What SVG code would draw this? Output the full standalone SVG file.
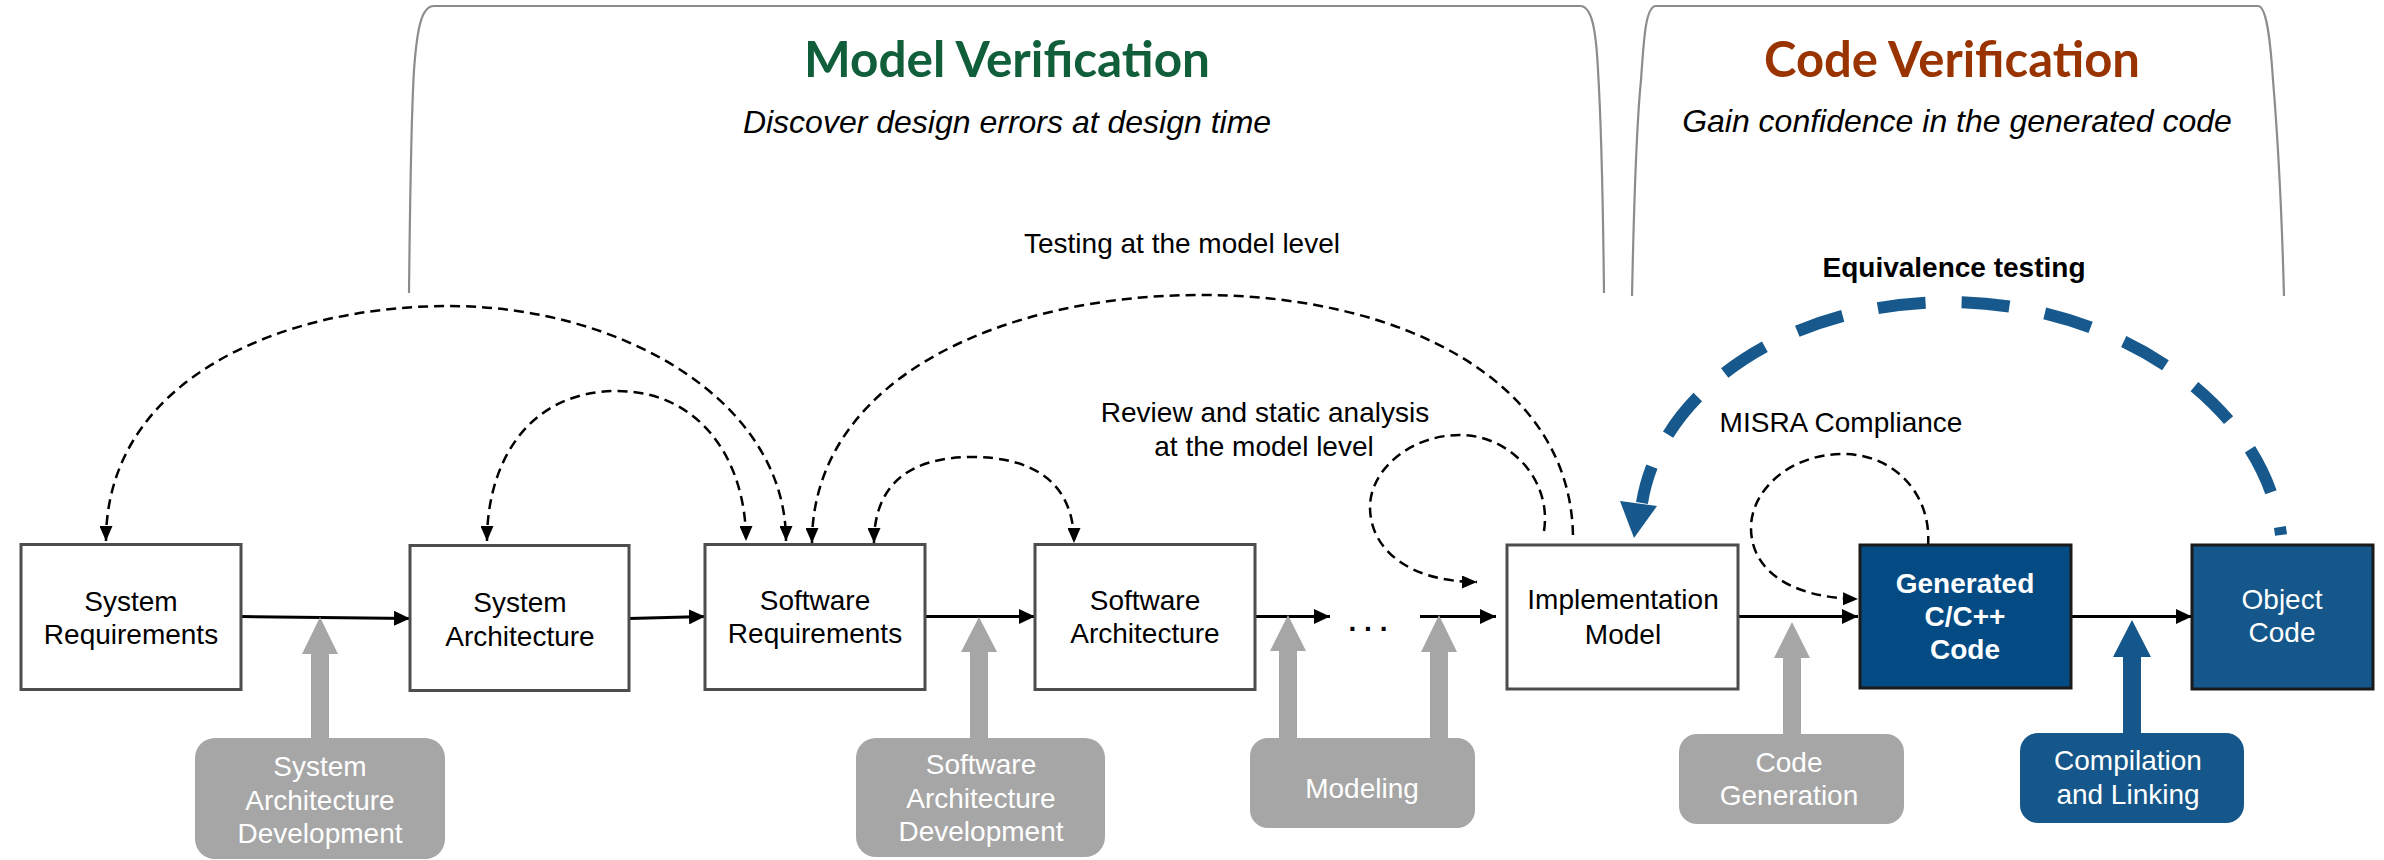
<svg xmlns="http://www.w3.org/2000/svg" width="2384" height="860" viewBox="0 0 2384 860">
  <defs>
    <style>
      .t { font-family: "Liberation Sans", Arial, sans-serif; font-size: 28px; text-anchor: middle; fill: #000; }
      .w { fill: #fff; }
      .b { font-weight: bold; }
      .it { font-style: italic; font-size: 32px; }
      .title { font-family: Lato, "Open Sans", sans-serif; font-weight: bold; font-size: 50px; text-anchor: middle; }
      .box { fill: #fff; stroke: #4d4d4d; stroke-width: 3; }
      .bluebox { stroke: #1a1a1a; stroke-width: 3; }
      .pill { fill: #a6a6a6; }
      .pillblue { fill: #15578a; }
      .flow { fill: none; stroke: #000; stroke-width: 3; marker-end: url(#arrow); }
      .loop { fill: none; stroke: #000; stroke-width: 2.5; stroke-dasharray: 10 6; }
      .bracket { fill: none; stroke: #8c8c8c; stroke-width: 2.2; }
    </style>
    <marker id="arrow" markerUnits="userSpaceOnUse" markerWidth="16" markerHeight="15" refX="16" refY="7.5" orient="auto">
      <path d="M0,0 L16,7.5 L0,15 Z" fill="#000"/>
    </marker>
    <marker id="dashhead" markerUnits="userSpaceOnUse" markerWidth="15" markerHeight="13" refX="15" refY="6.5" orient="auto-start-reverse">
      <path d="M0,0 L15,6.5 L0,13 Z" fill="#000"/>
    </marker>
  </defs>

  <rect width="2384" height="860" fill="#fff"/>

  <!-- phase brackets and headings -->
  <g id="model-verification">
    <path class="bracket" d="M409,293 C410,200 411,120 414,70 C417,30 421,6 434,6 L1580,6 C1592,6 1596,30 1598,70 C1601,120 1603,200 1604,293"/>
    <text class="title" x="1007" y="77" fill="#115e3b" textLength="406" lengthAdjust="spacingAndGlyphs">Model Verification</text>
    <text class="t it" x="1007" y="133">Discover design errors at design time</text>
  </g>
  <g id="code-verification">
    <path class="bracket" d="M1632,296 C1634,200 1637,120 1641,80 C1644,35 1646,6 1656,6 L2258,6 C2266,6 2270,35 2273,80 C2278,140 2282,220 2284,296"/>
    <text class="title" x="1952" y="77" fill="#993300" textLength="376" lengthAdjust="spacingAndGlyphs">Code Verification</text>
    <text class="t it" x="1957" y="132">Gain confidence in the generated code</text>
  </g>

  <!-- connectors -->
  <g id="connectors">
    <!-- main flow -->
    <path class="flow" d="M241,616.5 L410,618.5"/>
    <path class="flow" d="M629,618.5 L705,616.5"/>
    <path class="flow" d="M925,616.5 L1035,616.5"/>
    <path class="flow" d="M1255,616.5 L1330,616.5"/>
    <path class="flow" d="M1420,616.5 L1496,616.5"/>
    <path class="flow" d="M1739,616.5 L1858,616.5"/>
    <path class="flow" d="M2072,616.5 L2192,616.5"/>

    <!-- traceability / testing arcs -->
    <path class="loop" d="M106,541 C106,380 280,306 449,306 C620,306 786,400 786,541" marker-start="url(#dashhead)" marker-end="url(#dashhead)"/>
    <path class="loop" d="M487,541 C487,460 530,391 617,391 C700,391 746,460 746,541" marker-start="url(#dashhead)" marker-end="url(#dashhead)"/>
    <path class="loop" d="M874,543 C874,480 915,457 972,457 C1030,457 1074,480 1074,543" marker-start="url(#dashhead)" marker-end="url(#dashhead)"/>
    <path class="loop" d="M812,543 C812,380 1000,295 1201,295 C1400,295 1573,380 1573,539" marker-start="url(#dashhead)"/>
    <!-- review loop on the implementation model -->
    <path class="loop" d="M1544,531 C1552,480 1510,435 1460,435 C1410,435 1370,470 1370,507 C1370,550 1410,582 1477,582" marker-end="url(#dashhead)"/>
    <!-- MISRA loop on the generated code -->
    <path class="loop" d="M1928,546 C1932,495 1895,454 1843,454 C1790,454 1751,490 1751,528 C1751,570 1790,598 1858,599" marker-end="url(#dashhead)"/>

    <!-- equivalence testing -->
    <path d="M2281,535 C2265,400 2110,302 1950,302 C1790,302 1660,390 1642,503" fill="none" stroke="#17598c" stroke-width="12" stroke-dasharray="48 36" stroke-dashoffset="40"/>
    <polygon points="1620,501 1657,506 1634,538" fill="#17598c"/>

    <!-- activity arrows -->
    <polygon points="311,738 311,654 302,654 320,617 338,654 329,654 329,738" fill="#a6a6a6"/>
    <polygon points="970,738 970,652 961,652 979,617 997,652 988,652 988,738" fill="#a6a6a6"/>
    <polygon points="1279,738 1279,651 1270,651 1288,615 1306,651 1297,651 1297,738" fill="#a6a6a6"/>
    <polygon points="1430,738 1430,652 1421,652 1439,615 1457,652 1448,652 1448,738" fill="#a6a6a6"/>
    <polygon points="1783,734 1783,658 1774,658 1792,622 1810,658 1801,658 1801,734" fill="#a6a6a6"/>
    <polygon points="2123,733 2123,657 2113,657 2132,620 2151,657 2141,657 2141,733" fill="#15578a"/>
  </g>

  <!-- flow labels -->
  <text class="t" x="1182" y="253">Testing at the model level</text>
  <text class="t" x="1265" y="422">Review and static analysis</text>
  <text class="t" x="1264" y="456">at the model level</text>
  <text class="t" x="1841" y="432">MISRA Compliance</text>
  <text class="t b" x="1954" y="277">Equivalence testing</text>
  <text class="t b" x="1368" y="631">. . .</text>

  <!-- artifacts -->
  <g id="system-requirements">
    <rect class="box" x="21" y="544.5" width="220" height="145"/>
    <text class="t" x="131" y="611">System</text>
    <text class="t" x="131" y="644">Requirements</text>
  </g>
  <g id="system-architecture">
    <rect class="box" x="410" y="545.5" width="219" height="145"/>
    <text class="t" x="520" y="612">System</text>
    <text class="t" x="520" y="646">Architecture</text>
  </g>
  <g id="software-requirements">
    <rect class="box" x="705" y="544.5" width="220" height="145"/>
    <text class="t" x="815" y="610">Software</text>
    <text class="t" x="815" y="643">Requirements</text>
  </g>
  <g id="software-architecture">
    <rect class="box" x="1035" y="544.5" width="220" height="145"/>
    <text class="t" x="1145" y="610">Software</text>
    <text class="t" x="1145" y="643">Architecture</text>
  </g>
  <g id="implementation-model">
    <rect class="box" x="1507" y="545" width="231" height="144"/>
    <text class="t" x="1623" y="609">Implementation</text>
    <text class="t" x="1623" y="644">Model</text>
  </g>
  <g id="generated-code">
    <rect class="bluebox" x="1860" y="545" width="211" height="143" fill="#044b84"/>
    <text class="t w b" x="1965" y="593">Generated</text>
    <text class="t w b" x="1965" y="626">C/C++</text>
    <text class="t w b" x="1965" y="659">Code</text>
  </g>
  <g id="object-code">
    <rect class="bluebox" x="2192" y="545" width="181" height="144" fill="#15578a"/>
    <text class="t w" x="2282" y="608.5">Object</text>
    <text class="t w" x="2282" y="642">Code</text>
  </g>

  <!-- activities -->
  <g id="system-architecture-development">
    <rect class="pill" x="195" y="738" width="250" height="121" rx="20"/>
    <text class="t w" x="320" y="776">System</text>
    <text class="t w" x="320" y="810">Architecture</text>
    <text class="t w" x="320" y="843">Development</text>
  </g>
  <g id="software-architecture-development">
    <rect class="pill" x="856" y="738" width="249" height="119" rx="20"/>
    <text class="t w" x="981" y="774">Software</text>
    <text class="t w" x="981" y="808">Architecture</text>
    <text class="t w" x="981" y="841">Development</text>
  </g>
  <g id="modeling">
    <rect class="pill" x="1250" y="738" width="225" height="90" rx="18"/>
    <text class="t w" x="1362" y="798">Modeling</text>
  </g>
  <g id="code-generation">
    <rect class="pill" x="1679" y="734" width="225" height="90" rx="18"/>
    <text class="t w" x="1789" y="772">Code</text>
    <text class="t w" x="1789" y="805">Generation</text>
  </g>
  <g id="compilation-and-linking">
    <rect class="pillblue" x="2020" y="733" width="224" height="90" rx="18"/>
    <text class="t w" x="2128" y="770">Compilation</text>
    <text class="t w" x="2128" y="803.5">and Linking</text>
  </g>
</svg>
